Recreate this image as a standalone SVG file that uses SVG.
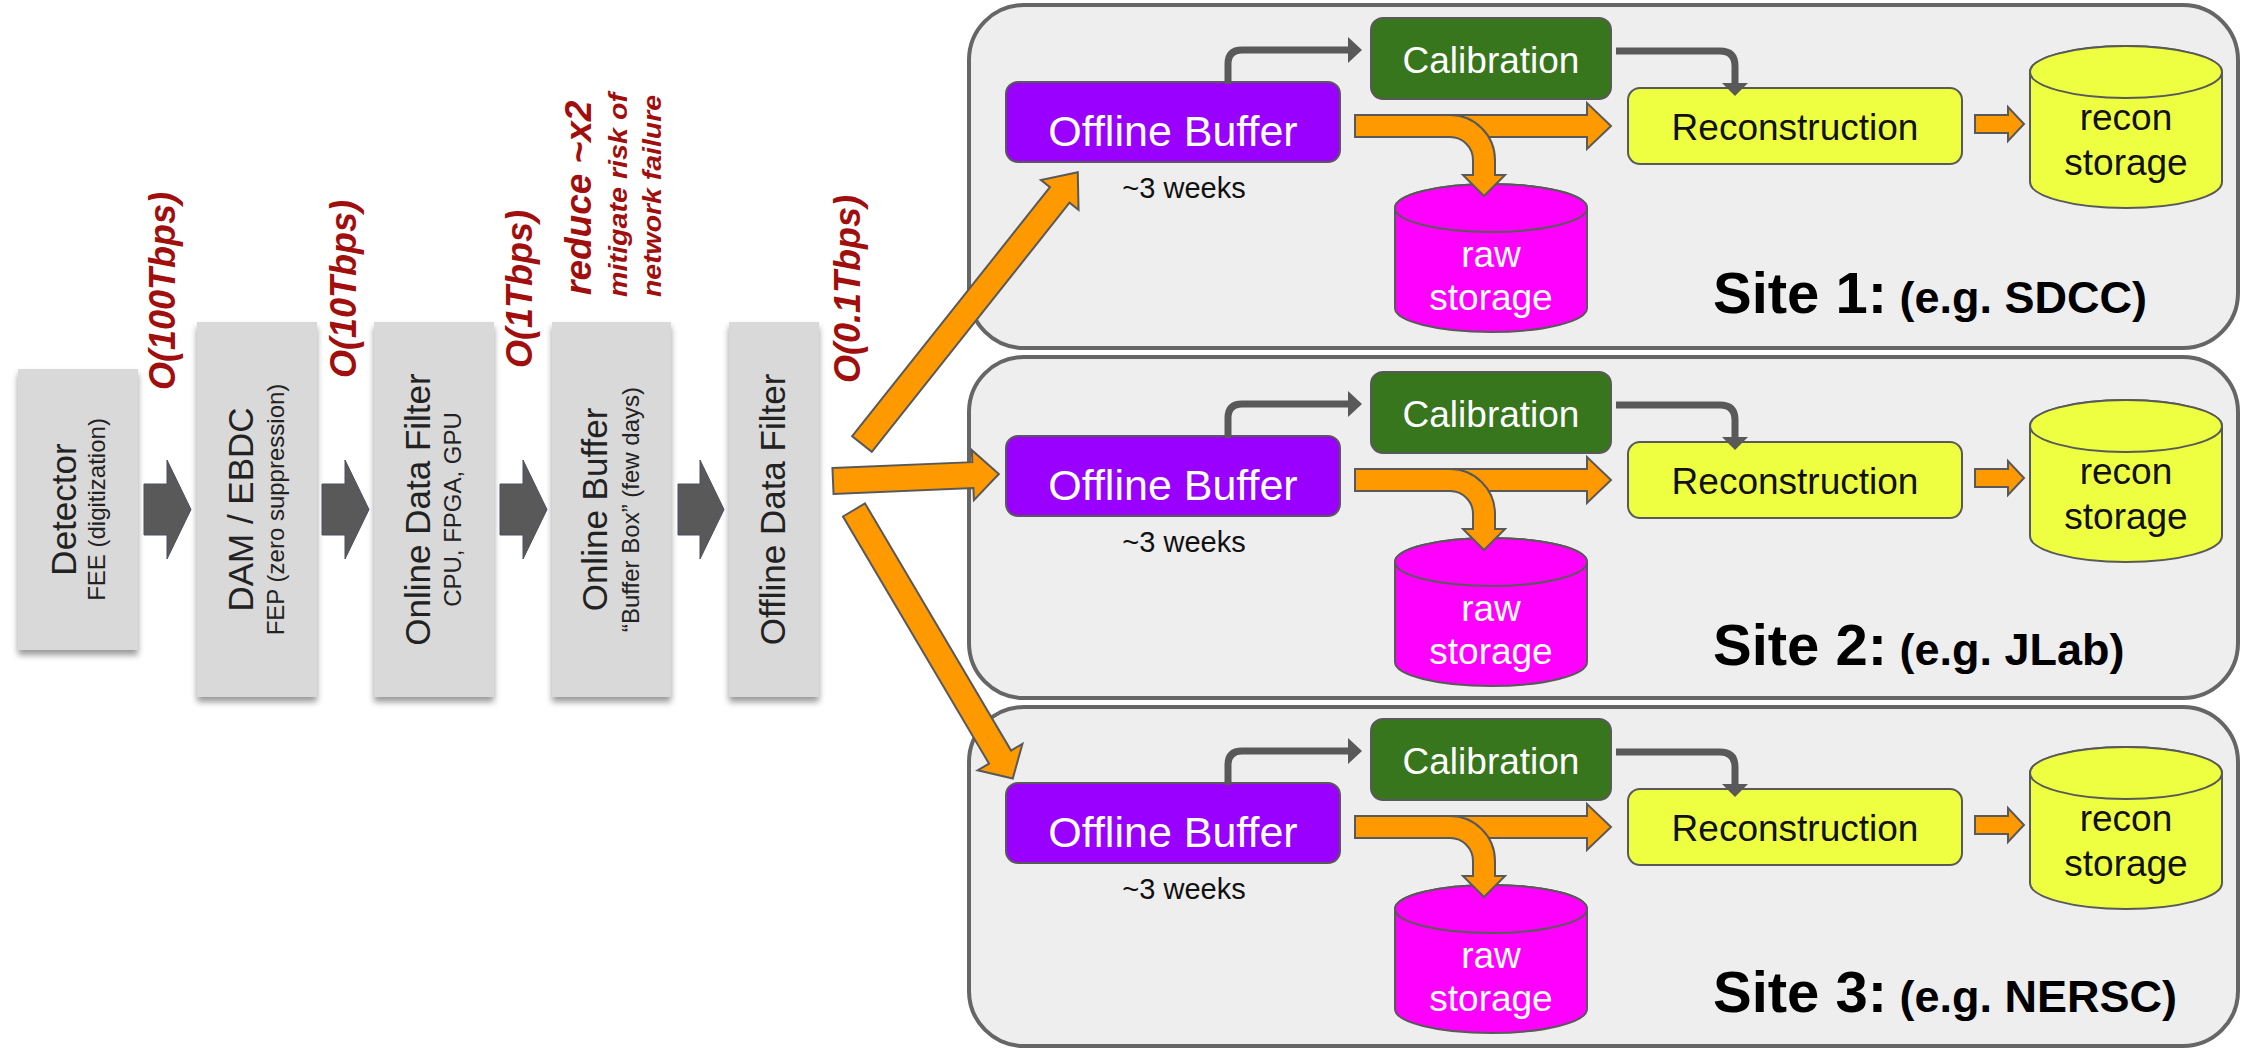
<svg xmlns="http://www.w3.org/2000/svg" width="2246" height="1051" viewBox="0 0 2246 1051">
<defs>
<filter id="sh" x="-20%" y="-10%" width="140%" height="125%">
<feDropShadow dx="0" dy="5" stdDeviation="3" flood-color="#000" flood-opacity="0.4"/>
</filter>
<style>
text{font-family:"Liberation Sans",Arial,sans-serif;}
.box{fill:#d9d9d9;filter:url(#sh);}
.main{font-size:35px;fill:#222;text-anchor:middle;}
.sub{font-size:24px;fill:#222;text-anchor:middle;}
.rate{font-size:36px;font-weight:bold;font-style:italic;fill:#a10e0e;}
.note{font-size:25px;font-weight:bold;font-style:italic;fill:#a10e0e;}
.garrow{fill:#595959;stroke:#4a5060;stroke-width:1;}
.oarrow{fill:#ff9900;stroke:#595959;stroke-width:2;}
.panel{fill:#eeeeee;stroke:#666666;stroke-width:4;}
.buf{fill:#9900ff;stroke:#595959;stroke-width:2;}
.cal{fill:#38761d;stroke:#595959;stroke-width:2;}
.rec{fill:#eeff41;stroke:#595959;stroke-width:2;}
.raw{fill:#ff00ff;stroke:#595959;stroke-width:2;}
.conn{fill:none;stroke:#595959;stroke-width:7;}
.chead{fill:#595959;}
.wt{fill:#ffffff;text-anchor:middle;}
.bt{fill:#111111;text-anchor:middle;}
.site{font-weight:bold;fill:#000;}
.s1{font-size:58px;}
.s2{font-size:45px;}
</style>
</defs>
<rect width="2246" height="1051" fill="#ffffff"/>

<g id="panels">
<rect class="panel" x="969" y="5" width="1269" height="343" rx="55"/>
<rect class="panel" x="969" y="357" width="1269" height="341" rx="55"/>
<rect class="panel" x="969" y="707" width="1269" height="339" rx="55"/>
</g>

<g id="detector">
<rect class="box" x="18" y="369" width="120" height="281"/>
<text class="main" transform="translate(76,509.5) rotate(-90)">Detector</text>
<text class="sub" transform="translate(105,509.5) rotate(-90)">FEE (digitization)</text>
</g>
<g id="dam-ebdc">
<rect class="box" x="197" y="322" width="120" height="375"/>
<text class="main" transform="translate(253,509.5) rotate(-90)">DAM / EBDC</text>
<text class="sub" transform="translate(284,509.5) rotate(-90)">FEP (zero suppression)</text>
</g>
<g id="online-data-filter">
<rect class="box" x="374" y="322" width="120" height="375"/>
<text class="main" transform="translate(430,509.5) rotate(-90)">Online Data Filter</text>
<text class="sub" transform="translate(461,509.5) rotate(-90)">CPU, FPGA, GPU</text>
</g>
<g id="online-buffer">
<rect class="box" x="552" y="322" width="119" height="375"/>
<text class="main" transform="translate(607,509.5) rotate(-90)">Online Buffer</text>
<text class="sub" transform="translate(639,509.5) rotate(-90)">“Buffer Box”  (few days)</text>
</g>
<g id="offline-data-filter">
<rect class="box" x="729" y="322" width="90" height="375"/>
<text class="main" transform="translate(785,509.5) rotate(-90)">Offline Data Filter</text>
</g>

<g id="rate-labels">
<text class="rate" transform="translate(175,390) rotate(-90)">O(100Tbps)</text>
<text class="rate" transform="translate(356,378) rotate(-90)">O(10Tbps)</text>
<text class="rate" transform="translate(532,368) rotate(-90)">O(1Tbps)</text>
<text class="rate" style="font-size:37px" transform="translate(591,295) rotate(-90)">reduce ~x2</text>
<text class="note" transform="translate(627,297) rotate(-90)" textLength="204" lengthAdjust="spacingAndGlyphs">mitigate risk of</text>
<text class="note" transform="translate(661,297) rotate(-90)" textLength="202" lengthAdjust="spacingAndGlyphs">network failure</text>
<text class="rate" transform="translate(860,383) rotate(-90)">O(0.1Tbps)</text>
</g>

<g id="site1">
<g id="site1-offline-buffer">
<rect class="buf" x="1006" y="82" width="334" height="80" rx="12"/>
<text class="wt" x="1173" y="146" style="font-size:43px">Offline Buffer</text>
<text class="bt" x="1184" y="198" style="font-size:29px">~3 weeks</text>
</g>
<g id="site1-calibration">
<rect class="cal" x="1371" y="18" width="240" height="81" rx="12"/>
<text class="wt" x="1491" y="73" style="font-size:37px">Calibration</text>
</g>
<g id="site1-reconstruction">
<rect class="rec" x="1628" y="88" width="334" height="76" rx="12"/>
<text class="bt" x="1795" y="140" style="font-size:37px">Reconstruction</text>
</g>
<g id="site1-raw-storage">
<path class="raw" d="M1395,208 A96,24 0 0 1 1587,208 V308 A96,24 0 0 1 1395,308 Z"/>
<ellipse class="raw" cx="1491" cy="208" rx="96" ry="24"/>
<text class="wt" x="1491" y="267" style="font-size:37px">raw</text>
<text class="wt" x="1491" y="310" style="font-size:37px">storage</text>
</g>
<g id="site1-recon-storage">
<path class="rec" d="M2030,72 A96,26 0 0 1 2222,72 V182 A96,26 0 0 1 2030,182 Z"/>
<ellipse class="rec" cx="2126" cy="72" rx="96" ry="26"/>
<text class="bt" x="2126" y="130" style="font-size:37px">recon</text>
<text class="bt" x="2126" y="175" style="font-size:37px">storage</text>
</g>
<text class="site" x="1713" y="313"><tspan class="s1">Site 1:</tspan><tspan class="s2"> (e.g. SDCC)</tspan></text>
</g>

<g id="site2" transform="translate(0,354)">
<g id="site2-offline-buffer">
<rect class="buf" x="1006" y="82" width="334" height="80" rx="12"/>
<text class="wt" x="1173" y="146" style="font-size:43px">Offline Buffer</text>
<text class="bt" x="1184" y="198" style="font-size:29px">~3 weeks</text>
</g>
<g id="site2-calibration">
<rect class="cal" x="1371" y="18" width="240" height="81" rx="12"/>
<text class="wt" x="1491" y="73" style="font-size:37px">Calibration</text>
</g>
<g id="site2-reconstruction">
<rect class="rec" x="1628" y="88" width="334" height="76" rx="12"/>
<text class="bt" x="1795" y="140" style="font-size:37px">Reconstruction</text>
</g>
<g id="site2-raw-storage">
<path class="raw" d="M1395,208 A96,24 0 0 1 1587,208 V308 A96,24 0 0 1 1395,308 Z"/>
<ellipse class="raw" cx="1491" cy="208" rx="96" ry="24"/>
<text class="wt" x="1491" y="267" style="font-size:37px">raw</text>
<text class="wt" x="1491" y="310" style="font-size:37px">storage</text>
</g>
<g id="site2-recon-storage">
<path class="rec" d="M2030,72 A96,26 0 0 1 2222,72 V182 A96,26 0 0 1 2030,182 Z"/>
<ellipse class="rec" cx="2126" cy="72" rx="96" ry="26"/>
<text class="bt" x="2126" y="130" style="font-size:37px">recon</text>
<text class="bt" x="2126" y="175" style="font-size:37px">storage</text>
</g>
<text class="site" x="1713" y="311"><tspan class="s1">Site 2:</tspan><tspan class="s2"> (e.g. JLab)</tspan></text>
</g>

<g id="site3" transform="translate(0,701)">
<g id="site3-offline-buffer">
<rect class="buf" x="1006" y="82" width="334" height="80" rx="12"/>
<text class="wt" x="1173" y="146" style="font-size:43px">Offline Buffer</text>
<text class="bt" x="1184" y="198" style="font-size:29px">~3 weeks</text>
</g>
<g id="site3-calibration">
<rect class="cal" x="1371" y="18" width="240" height="81" rx="12"/>
<text class="wt" x="1491" y="73" style="font-size:37px">Calibration</text>
</g>
<g id="site3-reconstruction">
<rect class="rec" x="1628" y="88" width="334" height="76" rx="12"/>
<text class="bt" x="1795" y="140" style="font-size:37px">Reconstruction</text>
</g>
<g id="site3-raw-storage">
<path class="raw" d="M1395,208 A96,24 0 0 1 1587,208 V308 A96,24 0 0 1 1395,308 Z"/>
<ellipse class="raw" cx="1491" cy="208" rx="96" ry="24"/>
<text class="wt" x="1491" y="267" style="font-size:37px">raw</text>
<text class="wt" x="1491" y="310" style="font-size:37px">storage</text>
</g>
<g id="site3-recon-storage">
<path class="rec" d="M2030,72 A96,26 0 0 1 2222,72 V182 A96,26 0 0 1 2030,182 Z"/>
<ellipse class="rec" cx="2126" cy="72" rx="96" ry="26"/>
<text class="bt" x="2126" y="130" style="font-size:37px">recon</text>
<text class="bt" x="2126" y="175" style="font-size:37px">storage</text>
</g>
<text class="site" x="1713" y="311"><tspan class="s1">Site 3:</tspan><tspan class="s2"> (e.g. NERSC)</tspan></text>
</g>

<g id="connectors">
<g id="pipeline-arrows">
<polygon class="garrow" points="144,484 167,484 167,460 191,509.5 167,559 167,535 144,535"/>
<polygon class="garrow" points="322,484 345,484 345,460 369,509.5 345,559 345,535 322,535"/>
<polygon class="garrow" points="500,484 523,484 523,460 547,509.5 523,559 523,535 500,535"/>
<polygon class="garrow" points="678,484 700,484 700,460 724,509.5 700,559 700,535 678,535"/>
</g>
<g id="distribution-arrows">
<polygon class="oarrow" transform="translate(862,444) rotate(-51.55)" points="0,-12.5 318,-12.5 318,-24 347,0 318,24 318,12.5 0,12.5"/>
<polygon class="oarrow" transform="translate(833,481) rotate(-2.41)" points="0,-13 140,-13 140,-25 166,0 140,25 140,13 0,13"/>
<polygon class="oarrow" transform="translate(854,510) rotate(59.41)" points="0,-12.8 287,-12.8 287,-26 312,0 287,26 287,12.8 0,12.8"/>
</g>
<g id="site-flows">
<g id="site1-flows">
<path class="conn" d="M1228,84 V64 Q1228,50 1242,50 H1350"/>
<polygon class="chead" points="1348,37 1362,50 1348,63"/>
<path class="conn" d="M1616,51 H1720 Q1735,51 1735,66 V85"/>
<polygon class="chead" points="1722,83 1748,83 1735,96"/>
<path class="oarrow" d="M1355,115 H1587 V103 L1611,126 L1587,149 V137 H1355 Z"/>
<path class="oarrow" d="M1355,115 H1450 A45,45 0 0 1 1495,160 V175 H1505 L1484,196 L1463,175 H1473 V160 A23,23 0 0 0 1450,137 H1355 Z"/>
<path class="oarrow" d="M1975,115 H2008 V107 L2024,124 L2008,141 V133 H1975 Z"/>
</g>
<g id="site2-flows" transform="translate(0,354)">
<path class="conn" d="M1228,84 V64 Q1228,50 1242,50 H1350"/>
<polygon class="chead" points="1348,37 1362,50 1348,63"/>
<path class="conn" d="M1616,51 H1720 Q1735,51 1735,66 V85"/>
<polygon class="chead" points="1722,83 1748,83 1735,96"/>
<path class="oarrow" d="M1355,115 H1587 V103 L1611,126 L1587,149 V137 H1355 Z"/>
<path class="oarrow" d="M1355,115 H1450 A45,45 0 0 1 1495,160 V175 H1505 L1484,196 L1463,175 H1473 V160 A23,23 0 0 0 1450,137 H1355 Z"/>
<path class="oarrow" d="M1975,115 H2008 V107 L2024,124 L2008,141 V133 H1975 Z"/>
</g>
<g id="site3-flows" transform="translate(0,701)">
<path class="conn" d="M1228,84 V64 Q1228,50 1242,50 H1350"/>
<polygon class="chead" points="1348,37 1362,50 1348,63"/>
<path class="conn" d="M1616,51 H1720 Q1735,51 1735,66 V85"/>
<polygon class="chead" points="1722,83 1748,83 1735,96"/>
<path class="oarrow" d="M1355,115 H1587 V103 L1611,126 L1587,149 V137 H1355 Z"/>
<path class="oarrow" d="M1355,115 H1450 A45,45 0 0 1 1495,160 V175 H1505 L1484,196 L1463,175 H1473 V160 A23,23 0 0 0 1450,137 H1355 Z"/>
<path class="oarrow" d="M1975,115 H2008 V107 L2024,124 L2008,141 V133 H1975 Z"/>
</g>
</g>
</g>
</svg>
